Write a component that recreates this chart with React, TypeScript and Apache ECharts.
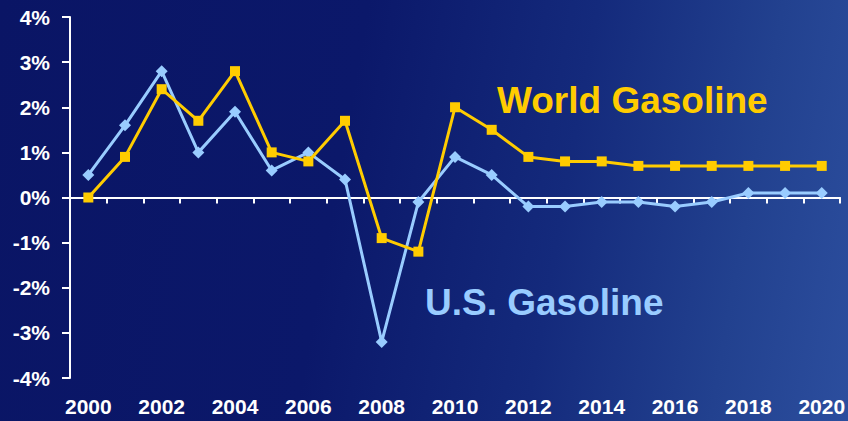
import React, { useEffect, useRef } from "react";
import * as echarts from "echarts";

const years = ["2000","2001","2002","2003","2004","2005","2006","2007","2008","2009","2010","2011","2012","2013","2014","2015","2016","2017","2018","2019","2020"];
const usGasoline = [0.5, 1.6, 2.8, 1.0, 1.9, 0.6, 1.0, 0.4, -3.2, -0.1, 0.9, 0.5, -0.2, -0.2, -0.1, -0.1, -0.2, -0.1, 0.1, 0.1, 0.1];
const worldGasoline = [0.0, 0.9, 2.4, 1.7, 2.8, 1.0, 0.8, 1.7, -0.9, -1.2, 2.0, 1.5, 0.9, 0.8, 0.8, 0.7, 0.7, 0.7, 0.7, 0.7, 0.7];
const yTicks = [-4, -3, -2, -1, 0, 1, 2, 3, 4];

const FONT = "'Liberation Sans', Arial, sans-serif";

export default function App() {
  const ref = useRef<HTMLDivElement>(null);
  useEffect(() => {
    if (!ref.current) return;
    const chart = echarts.init(ref.current, null, { renderer: "svg" });
    chart.setOption({
      animation: false,
      backgroundColor: "transparent",
      grid: { left: 70, right: 4, top: 17, bottom: 43, containLabel: false },
      xAxis: {
        type: "category",
        data: years,
        boundaryGap: true,
        axisLine: { show: true, onZero: true, lineStyle: { color: "#ffffff", width: 2 } },
        axisTick: { show: true, alignWithLabel: false, interval: 0, length: 6, lineStyle: { color: "#ffffff", width: 2 } },
        axisLabel: {
          show: true,
          interval: 1,
          color: "#ffffff",
          fontFamily: FONT,
          fontWeight: "bold",
          fontSize: 21,
          margin: 18,
        },
        splitLine: { show: false },
      },
      yAxis: {
        type: "value",
        min: yTicks[0],
        max: yTicks[yTicks.length - 1],
        interval: 1,
        axisLine: { show: true, lineStyle: { color: "#ffffff", width: 2 } },
        axisTick: { show: true, length: 8, lineStyle: { color: "#ffffff", width: 2 } },
        axisLabel: {
          color: "#ffffff",
          fontFamily: FONT,
          fontWeight: "bold",
          fontSize: 21,
          margin: 20,
          formatter: (v: number) => `${v}%`,
        },
        splitLine: { show: false },
      },
      series: [
        {
          name: "U.S. Gasoline",
          type: "line",
          data: usGasoline,
          symbol: "diamond",
          symbolSize: 12,
          lineStyle: { color: "#99ccff", width: 3 },
          itemStyle: { color: "#99ccff" },
          z: 2,
        },
        {
          name: "World Gasoline",
          type: "line",
          data: worldGasoline,
          symbol: "rect",
          symbolSize: 10,
          lineStyle: { color: "#ffcc00", width: 3 },
          itemStyle: { color: "#ffcc00" },
          z: 3,
        },
      ],
      graphic: [
        {
          type: "text",
          left: 497,
          top: 82,
          style: { text: "World Gasoline", fill: "#ffcc00", font: `bold 37px ${FONT}` },
        },
        {
          type: "text",
          left: 425,
          top: 284,
          style: { text: "U.S. Gasoline", fill: "#99ccff", font: `bold 37px ${FONT}` },
        },
      ],
    });
    return () => chart.dispose();
  }, []);

  return (
    <div
      style={{
        position: "absolute",
        left: 0,
        top: 0,
        width: 848,
        height: 421,
        background:
          "linear-gradient(100deg, #0a1565 0%, #0b186a 40%, #142a7c 65%, #22418f 85%, #2c4e9e 100%)",
      }}
    >
      <div ref={ref} style={{ width: 848, height: 421 }} />
    </div>
  );
}
